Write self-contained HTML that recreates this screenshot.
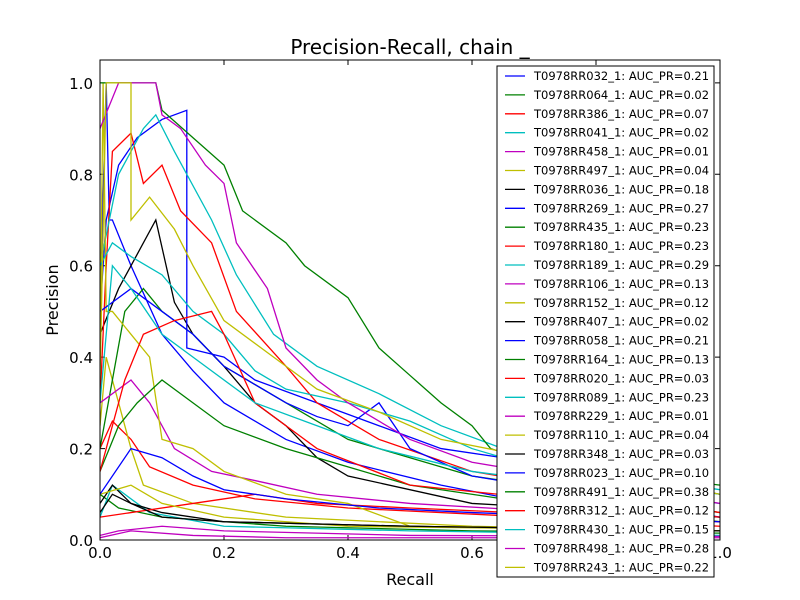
<!DOCTYPE html>
<html><head><meta charset="utf-8"><style>
body{margin:0;background:#fff}
svg{display:block;font-family:"DejaVu Sans","Liberation Sans",sans-serif}
</style></head><body>
<svg id="c" width="800" height="600" viewBox="0 0 800 600">
<rect x="0" y="0" width="800" height="600" fill="#fff"/>
<text x="410" y="54" font-size="20" text-anchor="middle">Precision-Recall, chain _</text>
<text x="410" y="585" font-size="16" text-anchor="middle">Recall</text>
<text x="58" y="300" font-size="16" text-anchor="middle" transform="rotate(-90 58 300)">Precision</text>
<g id="ticks"></g>
<g id="series" clip-path="url(#clip)"></g>
<clipPath id="clip"><rect x="100" y="60" width="620" height="480"/></clipPath>
<rect x="100" y="60" width="620" height="480" fill="none" stroke="#000" stroke-width="1"/>
<g id="legend"></g>
</svg>
<script>
const xTicks=[0,0.2,0.4,0.6,0.8,1.0];
const yTicks=[0,0.2,0.4,0.6,0.8,1.0];
const names=["T0978RR032_1","T0978RR064_1","T0978RR386_1","T0978RR041_1","T0978RR458_1","T0978RR497_1","T0978RR036_1","T0978RR269_1","T0978RR435_1","T0978RR180_1","T0978RR189_1","T0978RR106_1","T0978RR152_1","T0978RR407_1","T0978RR058_1","T0978RR164_1","T0978RR020_1","T0978RR089_1","T0978RR229_1","T0978RR110_1","T0978RR348_1","T0978RR023_1","T0978RR491_1","T0978RR312_1","T0978RR430_1","T0978RR498_1","T0978RR243_1"];
const aucs=["0.21","0.02","0.07","0.02","0.01","0.04","0.18","0.27","0.23","0.23","0.29","0.13","0.12","0.02","0.21","0.13","0.03","0.23","0.01","0.04","0.03","0.10","0.38","0.12","0.15","0.28","0.22"];
const s0=[[0,0.5],[0.01,1],[0.015,0.7],[0.02,0.7],[0.05,0.6],[0.1,0.45],[0.15,0.37],[0.2,0.3],[0.3,0.22],[0.4,0.17],[0.55,0.12],[0.7,0.08],[1,0.05]];
const s1=[[0,0.1],[0.03,0.07],[0.1,0.05],[0.3,0.03],[0.6,0.02],[1,0.015]];
const s2=[[0,0.2],[0.02,0.26],[0.05,0.22],[0.08,0.16],[0.15,0.12],[0.25,0.09],[0.4,0.07],[0.7,0.05],[1,0.03]];
const s3=[[0,0.05],[0.02,0.12],[0.04,0.1],[0.08,0.06],[0.2,0.03],[0.5,0.02],[1,0.01]];
const s4=[[0,0.01],[0.03,0.02],[0.1,0.03],[0.2,0.02],[0.5,0.01],[1,0.008]];
const s5=[[0,0.25],[0.01,0.4],[0.03,0.3],[0.05,0.2],[0.07,0.12],[0.15,0.08],[0.3,0.05],[0.6,0.03],[1,0.02]];
const s6=[[0,0.45],[0.03,0.55],[0.07,0.65],[0.09,0.7],[0.12,0.52],[0.15,0.45],[0.2,0.38],[0.25,0.3],[0.3,0.25],[0.35,0.18],[0.4,0.14],[0.6,0.08],[1,0.05]];
const s7=[[0,0.5],[0.01,0.7],[0.03,0.82],[0.06,0.88],[0.1,0.92],[0.14,0.94],[0.14,0.42],[0.2,0.4],[0.25,0.35],[0.35,0.3],[0.45,0.25],[0.55,0.2],[0.7,0.17],[1,0.1]];
const s8=[[0,0.2],[0.02,0.35],[0.04,0.5],[0.07,0.55],[0.1,0.5],[0.15,0.45],[0.2,0.38],[0.3,0.3],[0.4,0.22],[0.5,0.18],[0.6,0.14],[1,0.06]];
const s9=[[0,0.3],[0.01,0.6],[0.02,0.85],[0.05,0.89],[0.07,0.78],[0.1,0.82],[0.13,0.72],[0.18,0.65],[0.22,0.5],[0.3,0.38],[0.35,0.3],[0.45,0.22],[0.6,0.15],[1,0.06]];
const s10=[[0,0.6],[0.03,0.8],[0.07,0.9],[0.09,0.93],[0.12,0.85],[0.18,0.7],[0.22,0.58],[0.28,0.45],[0.35,0.38],[0.45,0.32],[0.55,0.25],[0.65,0.2],[0.75,0.16],[1,0.11]];
const s11=[[0,0.3],[0.05,0.35],[0.08,0.3],[0.12,0.2],[0.18,0.15],[0.25,0.13],[0.35,0.1],[0.5,0.08],[1,0.04]];
const s12=[[0,0.4],[0.005,1],[0.01,0.5],[0.02,0.5],[0.05,0.45],[0.08,0.4],[0.1,0.22],[0.15,0.2],[0.2,0.15],[0.3,0.1],[0.4,0.08],[0.5,0.03],[1,0.02]];
const s13=[[0,0.08],[0.02,0.12],[0.05,0.08],[0.1,0.06],[0.2,0.04],[0.5,0.03],[1,0.02]];
const s14=[[0,0.5],[0.05,0.55],[0.1,0.5],[0.15,0.45],[0.2,0.38],[0.25,0.34],[0.3,0.3],[0.35,0.27],[0.4,0.25],[0.45,0.3],[0.5,0.2],[0.6,0.14],[1,0.05]];
const s15=[[0,0.15],[0.03,0.25],[0.06,0.3],[0.1,0.35],[0.15,0.3],[0.2,0.25],[0.3,0.2],[0.4,0.16],[0.5,0.12],[0.7,0.08],[1,0.04]];
const s16=[[0,0.05],[0.05,0.06],[0.15,0.08],[0.25,0.1],[0.35,0.08],[0.5,0.07],[1,0.04]];
const s17=[[0,0.6],[0.02,0.65],[0.05,0.62],[0.1,0.58],[0.15,0.5],[0.2,0.45],[0.25,0.37],[0.3,0.33],[0.4,0.3],[0.5,0.26],[0.6,0.2],[0.7,0.16],[1,0.1]];
const s18=[[0,0.005],[0.05,0.02],[0.15,0.01],[0.3,0.005],[1,0.005]];
const s19=[[0,0.1],[0.05,0.12],[0.1,0.08],[0.2,0.05],[0.4,0.03],[1,0.02]];
const s20=[[0,0.06],[0.02,0.1],[0.05,0.08],[0.1,0.05],[0.2,0.04],[0.5,0.03],[1,0.02]];
const s21=[[0,0.1],[0.05,0.2],[0.1,0.18],[0.15,0.14],[0.2,0.11],[0.3,0.09],[0.45,0.07],[0.6,0.06],[1,0.04]];
const s22=[[0,1],[0.09,1],[0.1,0.94],[0.15,0.88],[0.2,0.82],[0.23,0.72],[0.3,0.65],[0.33,0.6],[0.4,0.53],[0.45,0.42],[0.5,0.36],[0.55,0.3],[0.6,0.25],[0.63,0.2],[0.7,0.17],[1,0.12]];
const s23=[[0,0.15],[0.04,0.35],[0.07,0.45],[0.12,0.48],[0.18,0.5],[0.2,0.45],[0.25,0.3],[0.3,0.25],[0.35,0.2],[0.5,0.12],[1,0.05]];
const s24=[[0,0.3],[0.02,0.6],[0.05,0.55],[0.1,0.45],[0.15,0.4],[0.25,0.3],[0.35,0.25],[0.45,0.2],[0.6,0.15],[1,0.08]];
const s25=[[0,0.9],[0.03,1],[0.09,1],[0.1,0.93],[0.13,0.9],[0.17,0.82],[0.2,0.78],[0.22,0.65],[0.27,0.55],[0.3,0.42],[0.35,0.35],[0.4,0.3],[0.5,0.22],[0.6,0.17],[1,0.08]];
const s26=[[0,0.35],[0.01,1],[0.05,1],[0.05,0.7],[0.08,0.75],[0.12,0.68],[0.15,0.6],[0.2,0.48],[0.28,0.4],[0.35,0.33],[0.45,0.28],[0.55,0.22],[0.7,0.18],[1,0.1]];
const seriesData=[s0,s1,s2,s3,s4,s5,s6,s7,s8,s9,s10,s11,s12,s13,s14,s15,s16,s17,s18,s19,s20,s21,s22,s23,s24,s25,s26];
const colors=["#0000ff","#008000","#ff0000","#00bfbf","#bf00bf","#bfbf00","#000000"];
const NS="http://www.w3.org/2000/svg";
const X=v=>100+v*620;
const Y=v=>540-v/1.05*480;
function mk(t,a,p){const e=document.createElementNS(NS,t);for(const k in a)e.setAttribute(k,a[k]);p.appendChild(e);return e;}
const tg=document.getElementById('ticks');
xTicks.forEach(v=>{
  const l=mk('path',{d:`M${X(v)},540v-5M${X(v)},60v5`,stroke:'#000'},tg);
  
  
  const t=mk('text',{x:X(v),y:558,'font-size':15,'text-anchor':'middle'},tg);
  t.textContent=v.toFixed(1);
  
  
});
yTicks.forEach(v=>{
  const l=mk('path',{d:`M100,${Y(v)}h5M720,${Y(v)}h-5`,stroke:'#000'},tg);
  
  
  const t=mk('text',{x:93,y:Y(v)+6,'font-size':15,'text-anchor':'end'},tg);
  t.textContent=v.toFixed(1);
  
  
});
const sg=document.getElementById('series');
seriesData.forEach((pts,i)=>{
  let d=`M${X(pts[0][0])},${Y(pts[0][1])}`;
  for(let j=1;j<pts.length;j++){d+=`L${X(pts[j][0])},${Y(pts[j][1])}`;}
  const p=mk('path',{d:d,fill:'none',stroke:colors[i%7],'stroke-width':1.3},sg);
  
  
});
const lg=document.getElementById('legend');
const box=mk('rect',{x:497,y:66,width:217,height:511,fill:'#fff',stroke:'#000'},lg);


names.forEach((n,i)=>{
  const y=76+i*18.9;
  const l=mk('line',{x1:505,x2:525,y1:y,y2:y,stroke:colors[i%7],'stroke-width':1.3},lg);
  
  
  const t=mk('text',{x:534,y:y+4,'font-size':11.5},lg);
  t.textContent=n+': AUC_PR='+aucs[i];
  
  
});
</script>
</body></html>
